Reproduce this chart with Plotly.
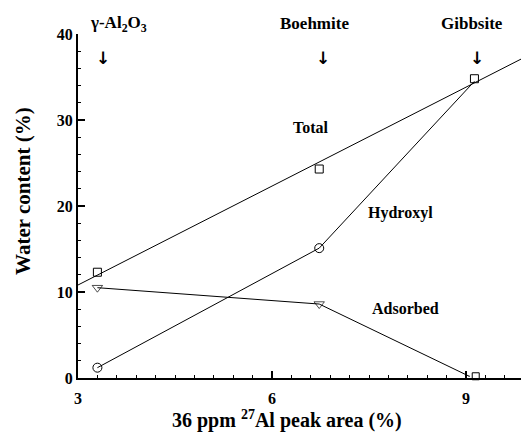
import numpy as np
import plotly.graph_objects as go

# Data
x_pts = [3.3, 6.73, 9.13]
total = [12.3, 24.3, 34.8]
hydroxyl = [1.2, 15.1, 34.5]
adsorbed_x = [3.3, 6.73, 9.05]
adsorbed = [10.5, 8.6, 0.2]
extra_sq_x = [9.15]
extra_sq_y = [0.2]

phases = ["γ-Al<sub>2</sub>O<sub>3</sub>", "Boehmite", "Gibbsite"]
phase_label_x = [3.62, 6.65, 9.09]
phase_arrow_x = [3.39, 6.79, 9.17]

series_labels = ["Total", "Hydroxyl", "Adsorbed"]
series_label_x = [6.6, 7.98, 8.07]
series_label_y = [29.1, 19.2, 8.1]

x_title = "36 ppm <sup>27</sup>Al peak area (%)"
y_title = "Water content (%)"

x_range = [3, 9.85]
y_range = [0, 40]

FONT = "Liberation Serif, Times New Roman, DejaVu Serif, serif"

fig = go.Figure()

# Total: linear fit line + square markers
coef = np.polyfit(x_pts, total, 1)
fit_x = np.array(x_range)
fig.add_trace(go.Scatter(x=fit_x, y=np.polyval(coef, fit_x), mode="lines",
                         line=dict(color="black", width=1), showlegend=False))
fig.add_trace(go.Scatter(x=x_pts, y=total, mode="markers",
                         marker=dict(symbol="square-open", size=8, color="black", line=dict(width=1)),
                         showlegend=False))
# Hydroxyl
fig.add_trace(go.Scatter(x=x_pts[:2], y=hydroxyl[:2], mode="lines+markers",
                         line=dict(color="black", width=1),
                         marker=dict(symbol="circle-open", size=9, color="black", line=dict(width=1)),
                         showlegend=False))
fig.add_trace(go.Scatter(x=x_pts[1:], y=hydroxyl[1:], mode="lines",
                         line=dict(color="black", width=1), showlegend=False))
# Adsorbed
fig.add_trace(go.Scatter(x=adsorbed_x, y=adsorbed, mode="lines+markers",
                         line=dict(color="black", width=1),
                         marker=dict(symbol=["triangle-down-open", "triangle-down-open", "line-ns-open"],
                                     size=[9, 9, 1], color="black", line=dict(width=1)),
                         showlegend=False))
fig.add_trace(go.Scatter(x=extra_sq_x, y=extra_sq_y, mode="markers",
                         marker=dict(symbol="square-open", size=7, color="black", line=dict(width=1)),
                         showlegend=False, cliponaxis=False))

annotations = []
for t, lx, ax in zip(phases, phase_label_x, phase_arrow_x):
    annotations.append(dict(x=lx, y=1.03, xref="x", yref="paper", text=t, showarrow=False,
                            yanchor="middle",
                            font=dict(family=FONT, size=17, color="black", weight="bold")))
    annotations.append(dict(x=ax, y=37.2, xref="x", yref="y", text="↓", showarrow=False,
                            font=dict(family="DejaVu Sans", size=17, color="black", weight="bold")))
for t, lx, ly in zip(series_labels, series_label_x, series_label_y):
    annotations.append(dict(x=lx, y=ly, xref="x", yref="y", text=t, showarrow=False,
                            font=dict(family=FONT, size=16, color="black", weight="bold")))
# Axis titles
annotations.append(dict(x=0.472, y=-0.122, xref="paper", yref="paper", text=x_title, showarrow=False,
                        xanchor="center", yanchor="middle",
                        font=dict(family=FONT, size=20, color="black", weight="bold")))
annotations.append(dict(x=-0.124, y=0.544, xref="paper", yref="paper", text=y_title, showarrow=False,
                        xanchor="center", yanchor="middle", textangle=-90,
                        font=dict(family=FONT, size=21, color="black", weight="bold")))

fig.update_layout(
    width=521, height=442,
    margin=dict(l=78, r=0, t=34, b=64),
    plot_bgcolor="white", paper_bgcolor="white",
    font=dict(family=FONT, size=15, color="black"),
    annotations=annotations,
    xaxis=dict(range=x_range, tickvals=[3, 6, 9], ticks="inside", ticklen=7, tickwidth=1.5,
               tickcolor="black", showline=True, linecolor="black", linewidth=2,
               showgrid=False, zeroline=False, mirror=False, ticklabelstandoff=5,
               tickfont=dict(family=FONT, size=16, color="black", weight="bold"),
               minor=dict(dtick=0.3, tick0=3, ticks="inside", ticklen=3, tickcolor="black", tickwidth=1)),
    yaxis=dict(range=y_range, tickvals=[0, 10, 20, 30, 40], ticks="inside", ticklen=7, tickwidth=1.5,
               tickcolor="black", showline=True, linecolor="black", linewidth=2,
               showgrid=False, zeroline=False, mirror=False,
               tickfont=dict(family=FONT, size=16, color="black", weight="bold"),
               minor=dict(dtick=2, ticks="inside", ticklen=3, tickcolor="black", tickwidth=1)),
)

fig.write_html("out.html", config={"displayModeBar": False},
               post_script="document.body.style.margin='0';document.body.style.overflow='hidden';")
